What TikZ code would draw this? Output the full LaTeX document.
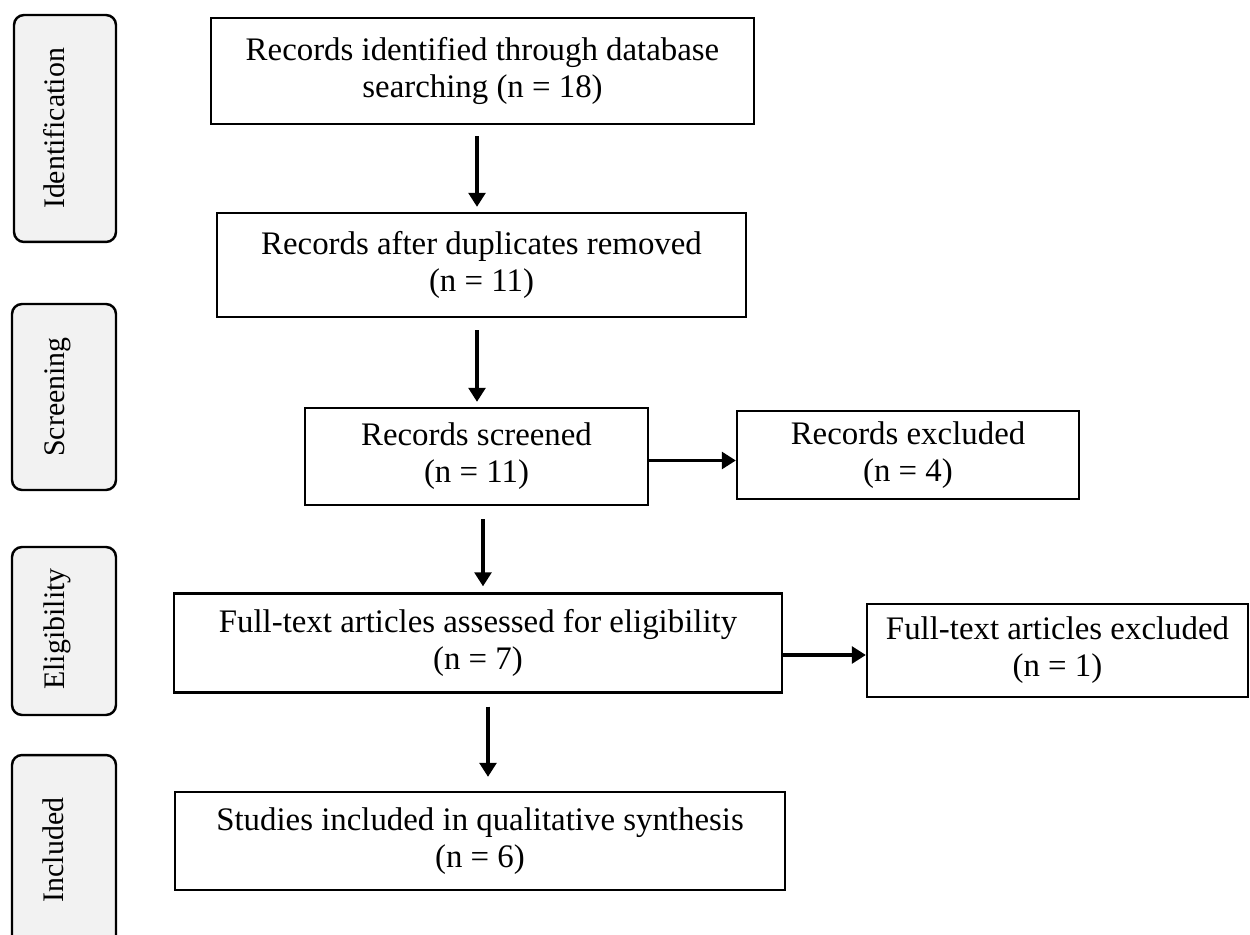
\documentclass[tikz,border=0pt]{standalone}
\usepackage{fontspec}
\setmainfont{Liberation Serif}
\usetikzlibrary{arrows.meta}
\definecolor{sidegray}{HTML}{F2F2F2}
\tikzset{
  box/.style={draw=black, line width=1.3pt, fill=white, align=center, inner sep=0pt,
    font=\fontsize{18.7}{21}\selectfont},
  sidebox/.style={draw=black, line width=1.4pt, fill=sidegray, rounded corners=0.2cm, inner sep=0pt},
  sidetext/.style={rotate=90, anchor=base, inner sep=0pt, font=\fontsize{17}{20}\selectfont},
  arr/.style={line width=2pt, -{Triangle[length=8pt,width=9.5pt]}},
}
\begin{document}
\begin{tikzpicture}[x=0.02cm,y=-0.02cm]
\useasboundingbox (0,0) rectangle (1250,935);
\clip (0,0) rectangle (1250,935);

% phase labels
\node[sidebox, minimum width=2.04cm, minimum height=4.54cm] (sid) at (65,128.5) {};
\node[sidetext] (tid) at (64,128.5) {Identification};
\node[sidebox, minimum width=2.08cm, minimum height=3.72cm] (sscr) at (64,397) {};
\node[sidetext] (tscr) at (64,397) {Screening};
\node[sidebox, minimum width=2.08cm, minimum height=3.36cm] (selig) at (64,631) {};
\node[sidetext] (telig) at (64,629) {Eligibility};
\node[sidebox, minimum width=2.08cm, minimum height=4.3cm] (sinc) at (64,862.5) {};
\node[sidetext] (tinc) at (63,850) {Included};

% flow boxes
\node[box, minimum width=10.86cm, minimum height=2.12cm] (b1) at (482.5,71)
  {Records identified through database\\searching (n = 18)};
\node[box, minimum width=10.58cm, minimum height=2.08cm] (b2) at (481.5,265)
  {Records after duplicates removed\\(n = 11)};
\node[box, minimum width=6.86cm, minimum height=1.94cm] (b3) at (476.5,456.5)
  {Records screened\\(n = 11)};
\node[box, minimum width=6.84cm, minimum height=1.76cm] (b4) at (908,455)
  {Records excluded\\(n = 4)};
\node[box, minimum width=12.16cm, minimum height=1.98cm] (b5) at (478,643)
  {Full-text articles assessed for eligibility\\(n = 7)};
\node[box, minimum width=7.62cm, minimum height=1.86cm] (b6) at (1057.5,650.5)
  {Full-text articles excluded\\(n = 1)};
\node[box, minimum width=12.2cm, minimum height=1.96cm] (b7) at (480,841)
  {Studies included in qualitative synthesis\\(n = 6)};

% connectors
\coordinate (c1) at ([xshift=-0.11cm]b1.south);
\draw[arr, shorten <=0.22cm, shorten >=0.1cm] (c1) -- (c1 |- b2.north);
\coordinate (c2) at ([xshift=-0.09cm]b2.south);
\draw[arr, shorten <=0.24cm, shorten >=0.1cm] (c2) -- (c2 |- b3.north);
\coordinate (c3) at ([xshift=0.13cm]b3.south);
\draw[arr, shorten <=0.26cm, shorten >=0.12cm] (c3) -- (c3 |- b5.north);
\coordinate (c4) at ([xshift=0.2cm]b5.south);
\draw[arr, shorten <=0.26cm, shorten >=0.28cm] (c4) -- (c4 |- b7.north);
\coordinate (c5) at ([yshift=-0.08cm]b3.east);
\draw[arr] (c5) -- (c5 -| b4.west);
\coordinate (c6) at ([yshift=-0.24cm]b5.east);
\draw[arr] (c6) -- (c6 -| b6.west);
\end{tikzpicture}
\end{document}
